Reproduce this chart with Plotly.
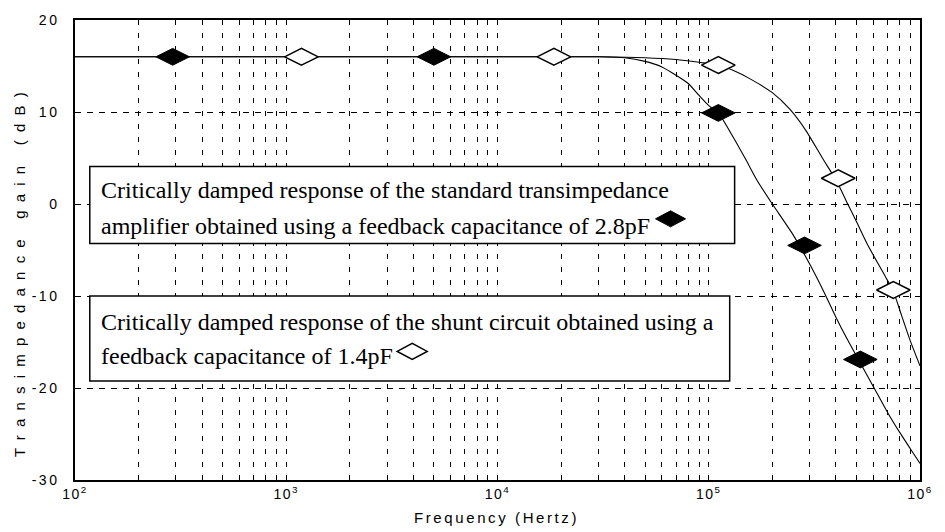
import plotly.graph_objects as go

# ---- data ----
# 2.8 pF standard transimpedance amplifier (filled diamonds)
freq_std = [1e2, 1e4, 3e4, 4e4, 5e4, 6e4, 7e4, 8e4, 9e4, 1e5, 1.11e5, 1.31e5, 1.5e5,
            1.7e5, 2e5, 2.5e5, 3e5, 3.5e5, 4e5, 4.5e5, 5e5, 6e5, 7e5, 8e5, 9e5, 1e6]
gain_std = [16, 16, 16, 15.9, 15.5, 14.9, 14.0, 13.1, 11.8, 10.7, 9.9, 7.2, 4.8,
            2.5, 0.0, -3.3, -6.5, -9.5, -12.3, -14.6, -16.5, -19.8, -22.6, -24.8, -26.6, -28.2]
mark_std_f = [290, 5.0e3, 1.11e5, 2.84e5, 5.22e5]
mark_std_g = [16, 16, 9.9, -4.5, -16.9]

# 1.4 pF shunt circuit (open diamonds)
freq_shunt = [1e2, 3e4, 5e4, 7e4, 9e4, 1.11e5, 1.31e5, 1.57e5, 2e5, 2.42e5, 2.9e5, 3.45e5,
              4.05e5, 4.55e5, 5e5, 5.7e5, 6.86e5, 7.48e5, 8.15e5, 8.97e5, 1e6]
gain_shunt = [16, 16, 15.9, 15.7, 15.4, 15.1, 14.5, 13.6, 12.1, 10.3, 7.9, 5.0,
              2.4, 0.0, -1.9, -4.6, -7.9, -9.5, -12.0, -14.8, -17.6]
mark_shunt_f = [1.18e3, 1.85e4, 1.11e5, 4.1e5, 7.48e5]
mark_shunt_g = [16, 16, 15.1, 2.8, -9.35]

x_tick_vals = [1e2, 1e3, 1e4, 1e5, 1e6]
x_tick_text = ["10<sup>2</sup>", "10<sup>3</sup>", "10<sup>4</sup>", "10<sup>5</sup>", "10<sup>6</sup>"]
x_minor_mult = [2, 3, 4, 5, 6, 7, 8, 9]
y_tick_vals = [20, 10, 0, -10, -20, -30]
y_tick_text = ["20", "10", "0", "-10", "-20", "-30"]

legend_std = ["Critically damped response of the standard transimpedance",
              "amplifier obtained using a feedback capacitance of 2.8pF"]
legend_shunt = ["Critically damped response of the shunt circuit obtained using a",
                "feedback capacitance of 1.4pF"]
x_title = "Frequency (Hertz)"
y_title = "Transimpedance gain (dB)"

SANS = "Liberation Sans, Arial, sans-serif"
SERIF = "Liberation Serif, Times New Roman, serif"


def spaced(t, px):
    return '<span style="letter-spacing:%spx">%s</span>' % (px, t)


minor_vals = [m * d for d in x_tick_vals[:-1] for m in x_minor_mult]

fig = go.Figure()
fig.add_trace(go.Scatter(x=freq_std, y=gain_std, mode="lines", line=dict(color="black", width=1.1, shape="spline", smoothing=0.6),
                         hoverinfo="skip", showlegend=False))
fig.add_trace(go.Scatter(x=freq_shunt, y=gain_shunt, mode="lines", line=dict(color="black", width=1.1, shape="spline", smoothing=0.6),
                         hoverinfo="skip", showlegend=False))
fig.add_trace(go.Scatter(x=mark_std_f, y=mark_std_g, mode="markers",
                         marker=dict(symbol="diamond-wide", size=24, color="black", line=dict(color="black", width=1)),
                         showlegend=False))
fig.add_trace(go.Scatter(x=mark_shunt_f, y=mark_shunt_g, mode="markers",
                         marker=dict(symbol="diamond-wide", size=24, color="white", line=dict(color="black", width=1.5)),
                         showlegend=False))

fig.update_xaxes(type="log", range=[2, 6], tickvals=x_tick_vals,
                 ticktext=[spaced(t, 1.5) for t in x_tick_text],
                 tickfont=dict(family=SANS, size=14, color="black"),
                 showgrid=True, gridcolor="black", gridwidth=1, griddash="5px,8px",
                 showline=True, mirror=True, linecolor="black", linewidth=1.5,
                 ticks="", zeroline=False,
                 minor=dict(tickvals=minor_vals, showgrid=True, gridcolor="black", gridwidth=1,
                            griddash="5px,8px", ticks="inside", ticklen=3, tickcolor="black"))
fig.update_yaxes(range=[-30, 20], tickvals=y_tick_vals,
                 ticktext=[spaced(t, 2.5) for t in y_tick_text],
                 tickfont=dict(family=SANS, size=14, color="black"),
                 showgrid=True, gridcolor="black", gridwidth=1, griddash="6px,6px",
                 showline=True, mirror=True, linecolor="black", linewidth=1.5,
                 ticks="", zeroline=False, ticklabelstandoff=11)

W, H = 945, 532
L, R, T, B = 75, 13, 15, 52
pw, ph = W - L - R, H - T - B


def px(x):
    return (x - L) / pw


def py(y):
    return (H - B - y) / ph


shapes = [
    dict(type="rect", xref="paper", yref="paper", x0=px(90), x1=px(744), y0=py(241), y1=py(163),
         fillcolor="white", line=dict(color="black", width=1.5), layer="above"),
    dict(type="rect", xref="paper", yref="paper", x0=px(90), x1=px(739), y0=py(380), y1=py(294),
         fillcolor="white", line=dict(color="black", width=1.5), layer="above"),
    dict(type="path", xref="paper", yref="paper", xsizemode="pixel", ysizemode="pixel",
         xanchor=px(679), yanchor=py(216), path="M-15,0L0,8L15,0L0,-8Z",
         fillcolor="black", line=dict(color="black", width=1), layer="above"),
    dict(type="path", xref="paper", yref="paper", xsizemode="pixel", ysizemode="pixel",
         xanchor=px(417), yanchor=py(350), path="M-15,0L0,8L15,0L0,-8Z",
         fillcolor="white", line=dict(color="black", width=1.5), layer="above"),
]

ann = []
for txt, yc in [(legend_std[0], 187), (legend_std[1], 223), (legend_shunt[0], 320), (legend_shunt[1], 355)]:
    ann.append(dict(text=txt, xref="paper", yref="paper", x=px(99), y=py(yc), xanchor="left", yanchor="middle",
                    showarrow=False, font=dict(family=SERIF, size=24, color="black")))
ann.append(dict(text=spaced(x_title, 2.6), xref="paper", yref="paper", x=px(502), y=py(518),
                xanchor="center", yanchor="middle", showarrow=False,
                font=dict(family=SANS, size=15, color="black")))
ann.append(dict(text=spaced(y_title, 8.2), xref="paper", yref="paper", x=px(18), y=py(268),
                xanchor="center", yanchor="middle", textangle=-90, showarrow=False,
                font=dict(family=SANS, size=15, color="black")))

fig.update_layout(width=W, height=H, margin=dict(l=L, r=R, t=T, b=B),
                  paper_bgcolor="white", plot_bgcolor="white",
                  shapes=shapes, annotations=ann, showlegend=False)

fig.write_html("out.html", config={"displayModeBar": False},
               post_script="document.body.style.margin='0';document.body.style.overflow='hidden';")
